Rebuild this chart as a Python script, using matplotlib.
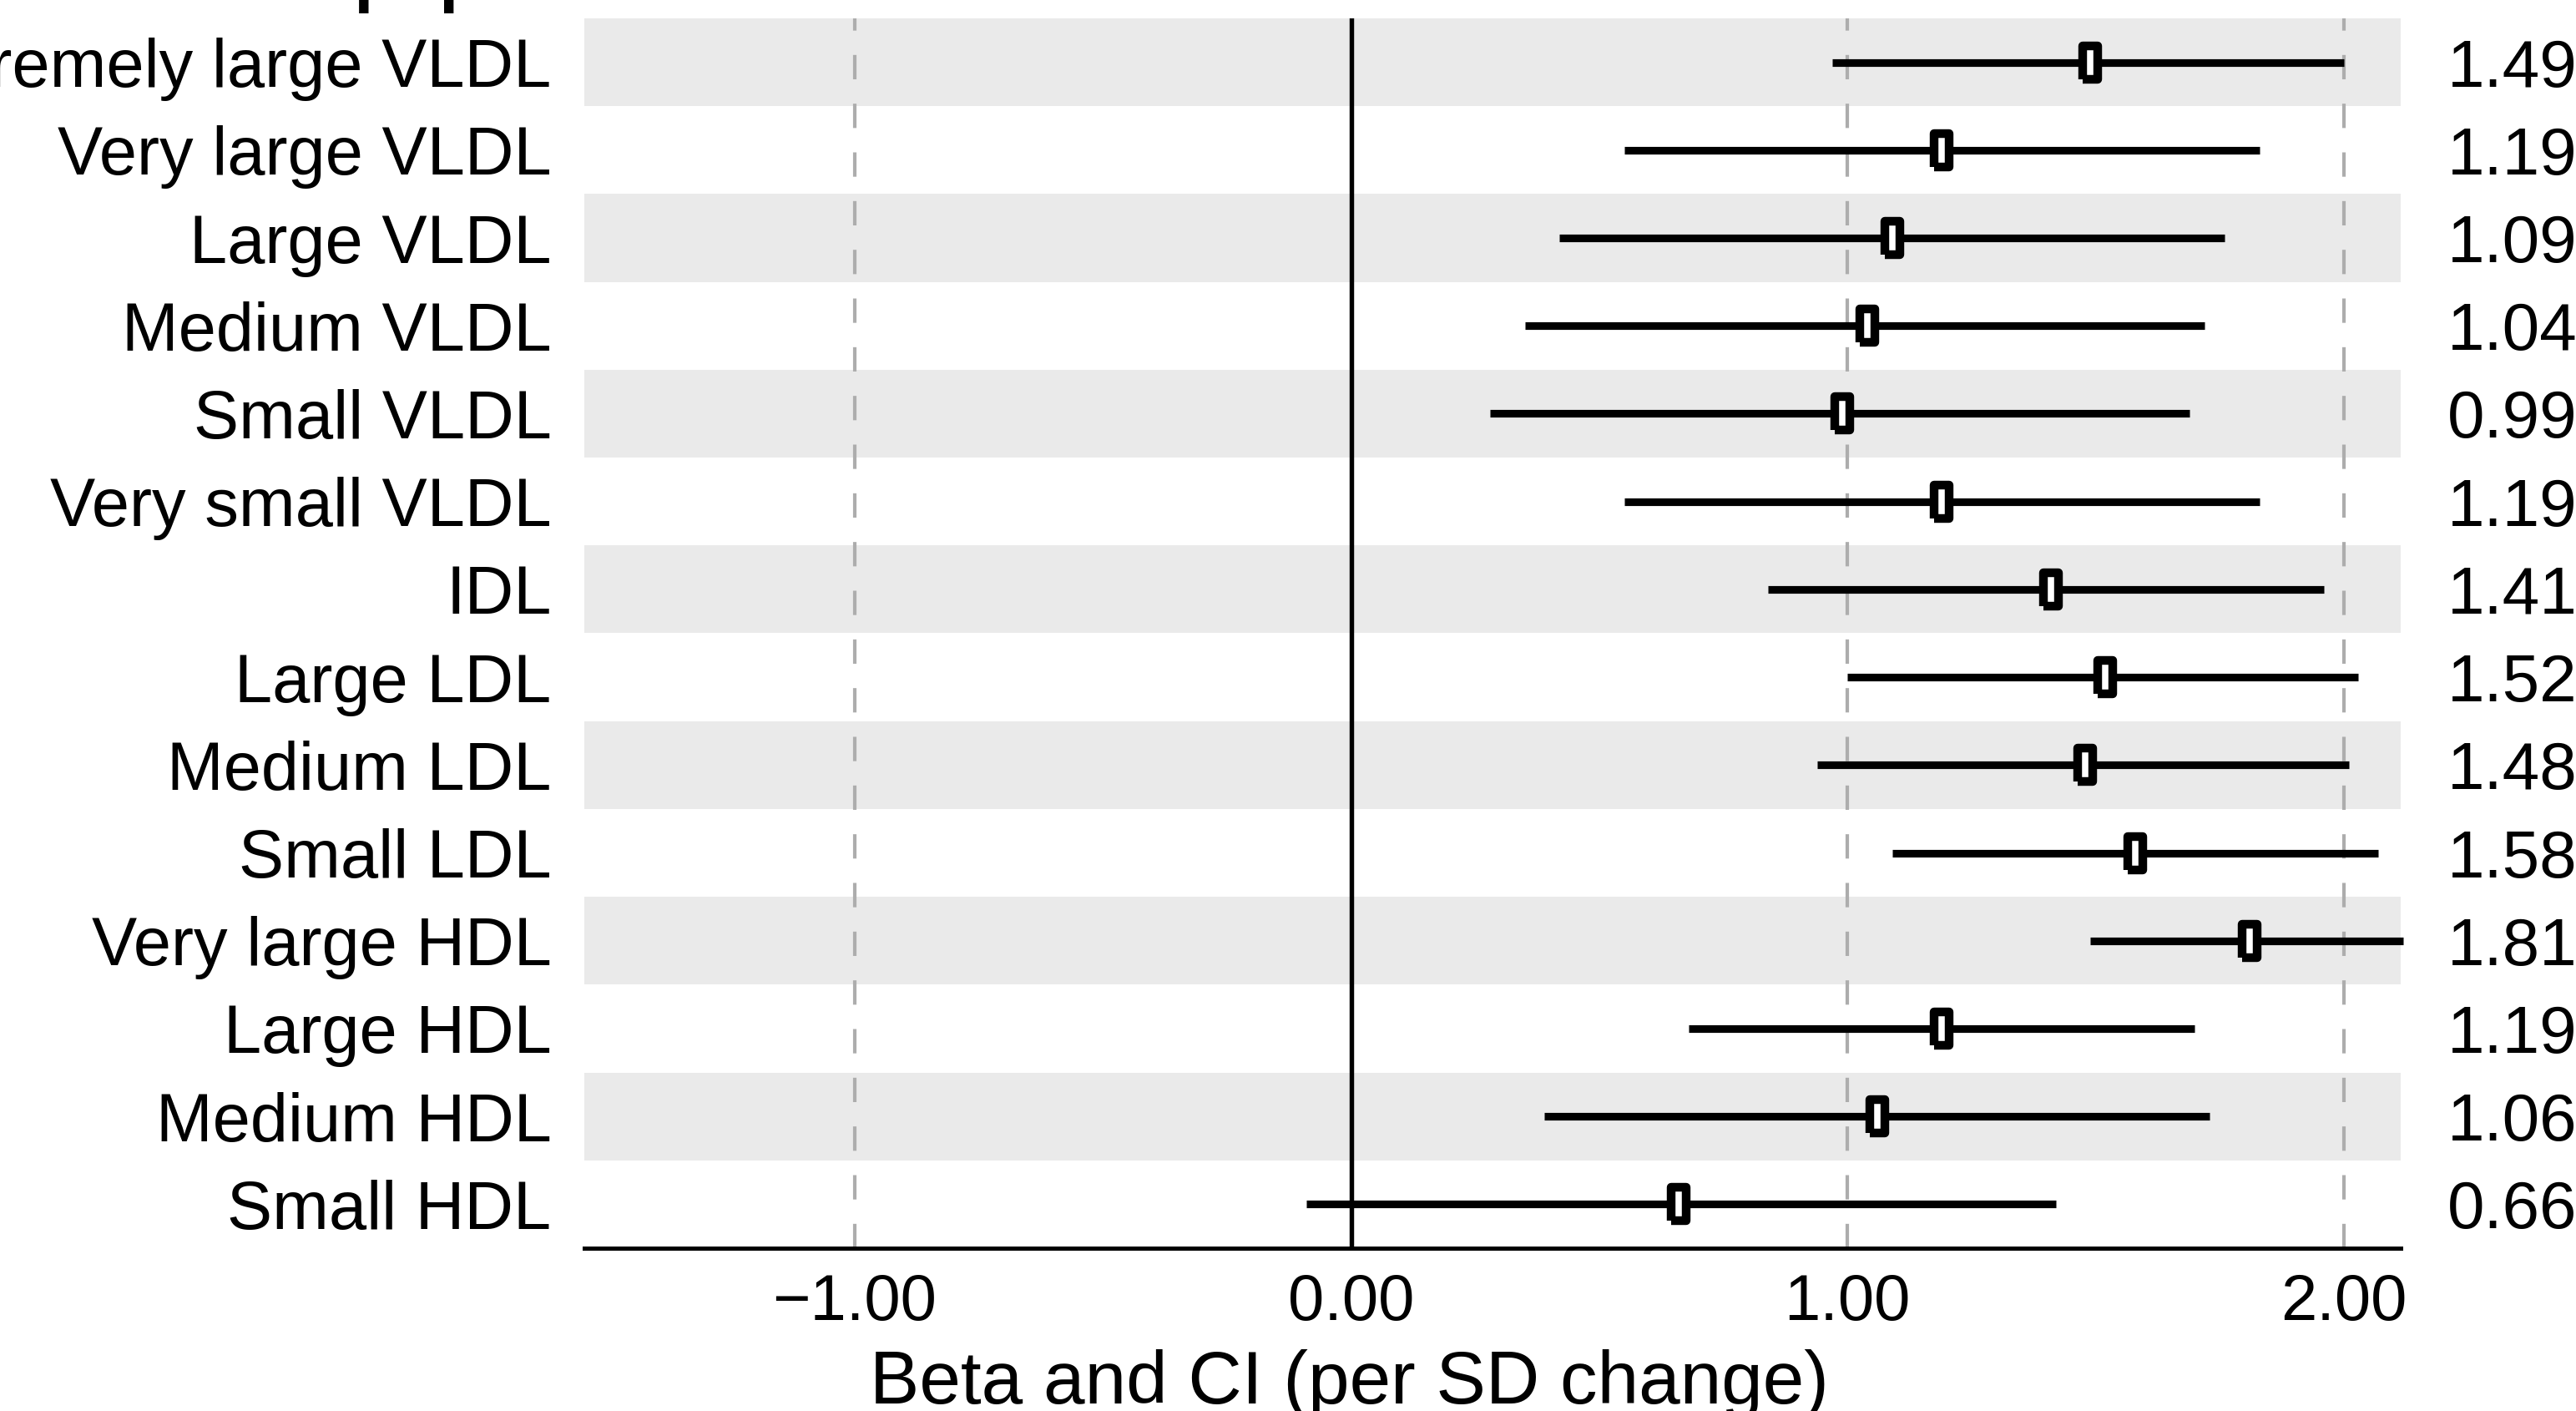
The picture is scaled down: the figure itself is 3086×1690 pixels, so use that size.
import numpy as np
import matplotlib
matplotlib.use("Agg")
import matplotlib.pyplot as plt
import matplotlib.transforms as mtransforms

plt.rcParams['font.family'] = ['Liberation Sans', 'DejaVu Sans']

# data (top to bottom)
labels = ["Extremely large VLDL", "Very large VLDL", "Large VLDL", "Medium VLDL",
          "Small VLDL", "Very small VLDL", "IDL", "Large LDL", "Medium LDL",
          "Small LDL", "Very large HDL", "Large HDL", "Medium HDL", "Small HDL"]
beta = [1.49, 1.19, 1.09, 1.04, 0.99, 1.19, 1.41, 1.52, 1.48, 1.58, 1.81, 1.19, 1.06, 0.66]
ci_lo = [0.97, 0.55, 0.42, 0.35, 0.28, 0.55, 0.84, 1.00, 0.94, 1.09, 1.49, 0.68, 0.39, -0.09]
ci_hi = [2.00, 1.83, 1.76, 1.72, 1.69, 1.83, 1.96, 2.03, 2.01, 2.07, 2.12, 1.70, 1.73, 1.42]
xticks = [-1.0, 0.0, 1.0, 2.0]

W, H = 3086, 1690
fig = plt.figure(figsize=(W / 300, H / 300), dpi=300)
left, right, bottom, top = 700, 2876, 1495, 22
ax = fig.add_axes([left / W, 1 - bottom / H, (right - left) / W, (bottom - top) / H])

n = len(labels)
y = np.arange(n, 0, -1)

# alternating bands
for i, yy in enumerate(y):
    if i % 2 == 0:
        ax.axhspan(yy - 0.5, yy + 0.5, color='#EAEAEA', lw=0, zorder=0)

for xv in xticks:
    if xv == 0:
        ax.axvline(xv, color='black', lw=1.3, zorder=1)
    else:
        ax.axvline(xv, color='#ADADAD', lw=1.0, dashes=(7, 7), zorder=1)

ax.hlines(y, ci_lo, ci_hi, color='black', lw=2.2, zorder=2, clip_on=False)

rect = [(-0.46, -1), (0.46, -1), (0.46, 1), (-0.46, 1), (-0.46, -1)]
ax.plot(beta, y, linestyle='none', marker=rect, markersize=9.6,
        markerfacecolor='white', markeredgecolor='black', markeredgewidth=2.5,
        zorder=3)

ax.set_xlim(-1.545, 2.115)
ax.set_ylim(0.5, n + 0.5)
ax.set_xticks(xticks)
ax.set_xticklabels([f"{v:.2f}".replace('-', '\u2212') for v in xticks], fontsize=18.7)
ax.set_yticks(y)
ax.set_yticklabels(labels, fontsize=19.5)
ax.tick_params(axis='x', length=0, pad=7)
ax.tick_params(axis='y', length=0, pad=9.5)

for s in ['top', 'right', 'left']:
    ax.spines[s].set_visible(False)
ax.spines['bottom'].set_linewidth(1.2)

trans = mtransforms.blended_transform_factory(fig.transFigure, ax.transData)
for yy, b in zip(y, beta):
    ax.text(2932 / W, yy, f"{b:.2f}", transform=trans,
            ha='left', va='center_baseline', fontsize=19.2)

fig.text(1616 / W, 1 - 1681 / H, "Beta and CI (per SD change)",
         ha='center', va='baseline', fontsize=21.4)
fig.text(350 / W, 1 + 1 / H, "Lipoprotein subclasses", ha='left', va='baseline',
         fontsize=20, fontweight='bold')

fig.savefig("out.png", dpi=300)
